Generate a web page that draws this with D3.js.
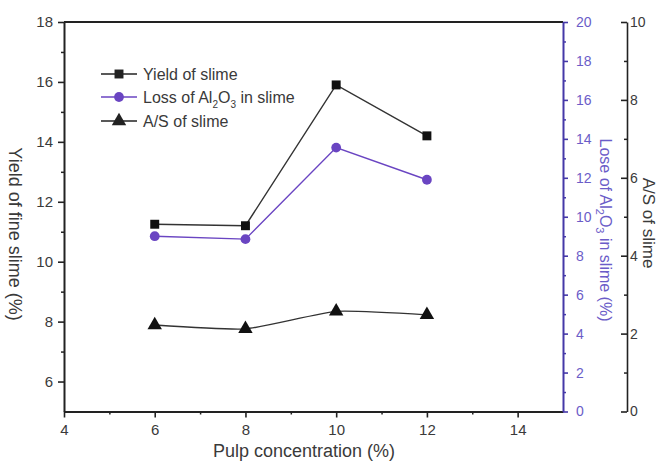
<!DOCTYPE html>
<html>
<head>
<meta charset="utf-8">
<script src="https://cdn.jsdelivr.net/npm/d3@7"></script>
<style>
  body { margin: 0; background: #fff; }
  text { font-family: "Liberation Sans", Arial, sans-serif; }
</style>
</head>
<body>
<div id="chart"></div>
<script>
// ===============================
// DATA
// ===============================
const concentration = [6, 8, 10, 12];
const yieldSlime = [11.25, 11.2, 15.9, 14.2];
const lossAl2O3 = [9.0, 8.85, 13.55, 11.9];
const asSlime = [2.22, 2.12, 2.57, 2.48];

const xTicks = [4, 6, 8, 10, 12, 14];
const yTicks = [6, 8, 10, 12, 14, 16, 18];
const lossTicks = [0, 2, 4, 6, 8, 10, 12, 14, 16, 18, 20];
const asTicks = [0, 2, 4, 6, 8, 10];

// ===============================
// DIMENSIONS
// ===============================
const W = 659, H = 461;
const plotLeft = 64, plotRight = 563, plotTop = 22, plotBottom = 411.5;
const blue = "#4538a8";
const purple = "#6a45c2";
const grey = "#3a3a3a";

const svg = d3.select("#chart").append("svg")
  .attr("width", W)
  .attr("height", H);

// ===============================
// SCALES
// ===============================
const x = d3.scaleLinear().domain([4, 15]).range([plotLeft, plotRight]);
const y = d3.scaleLinear().domain([5, 18]).range([plotBottom, plotTop]);
const yLoss = d3.scaleLinear().domain([0, 20]).range([plotBottom, plotTop]);
const yAS = d3.scaleLinear().domain([0, 10]).range([plotBottom, plotTop]);

function styleAxis(g, color, width) {
  g.select(".domain").attr("stroke", color).attr("stroke-width", width);
  g.selectAll(".tick line").attr("stroke", color).attr("stroke-width", 1.6);
  g.selectAll(".tick text").attr("fill", color).attr("font-size", 15);
}

// ===============================
// X AXIS
// ===============================
svg.append("g")
  .attr("transform", `translate(0,${plotBottom})`)
  .call(d3.axisBottom(x).tickValues([5, 7, 9, 11, 13]).tickSize(3).tickFormat(""))
  .call((g) => g.select(".domain").remove())
  .call((g) => g.selectAll(".tick line").attr("stroke", "#222").attr("stroke-width", 1.5));

svg.append("g")
  .attr("transform", `translate(0,${plotBottom})`)
  .call(d3.axisBottom(x).tickValues(xTicks).tickSize(6).tickSizeOuter(0).tickPadding(7))
  .call((g) => styleAxis(g, "#222", 2))
  .call((g) => g.selectAll(".tick text").attr("fill", grey));

svg.append("text")
  .attr("x", 304)
  .attr("y", 457)
  .attr("text-anchor", "middle")
  .attr("font-size", 18)
  .attr("fill", grey)
  .text("Pulp concentration (%)");

// ===============================
// LEFT AXIS
// ===============================
svg.append("g")
  .attr("transform", `translate(${plotLeft},0)`)
  .call(d3.axisLeft(y).tickValues([7, 9, 11, 13, 15, 17]).tickSize(3).tickFormat(""))
  .call((g) => g.select(".domain").remove())
  .call((g) => g.selectAll(".tick line").attr("stroke", "#222").attr("stroke-width", 1.5));

svg.append("g")
  .attr("transform", `translate(${plotLeft},0)`)
  .call(d3.axisLeft(y).tickValues(yTicks).tickSize(6).tickSizeOuter(0).tickPadding(5))
  .call((g) => styleAxis(g, "#222", 2))
  .call((g) => g.selectAll(".tick text").attr("fill", grey));

svg.append("text")
  .attr("transform", `translate(9,234) rotate(90)`)
  .attr("text-anchor", "middle")
  .attr("font-size", 18)
  .attr("fill", grey)
  .text("Yield of fine slime (%)");

// top frame line
svg.append("line")
  .attr("x1", plotLeft).attr("x2", plotRight)
  .attr("y1", plotTop).attr("y2", plotTop)
  .attr("stroke", "#222").attr("stroke-width", 2);

// ===============================
// RIGHT AXIS — LOSS OF Al2O3
// ===============================
svg.append("g")
  .attr("transform", `translate(${plotRight},0)`)
  .call(d3.axisRight(yLoss).tickValues(d3.range(1, 20, 2)).tickSize(3).tickFormat(""))
  .call((g) => g.select(".domain").remove())
  .call((g) => g.selectAll(".tick line").attr("stroke", blue).attr("stroke-width", 1.5));

svg.append("g")
  .attr("transform", `translate(${plotRight},0)`)
  .call(d3.axisRight(yLoss).tickValues(lossTicks).tickSize(5).tickSizeOuter(0).tickPadding(8))
  .call((g) => styleAxis(g, blue, 2))
  .call((g) => g.selectAll(".tick text").attr("fill", "#6b5cc8").attr("font-size", 14));

const lossLabel = svg.append("text")
  .attr("transform", `translate(600,230) rotate(90)`)
  .attr("text-anchor", "middle")
  .attr("font-size", 16)
  .attr("fill", "#6b5cc8");
lossLabel.append("tspan").text("Lose of Al");
lossLabel.append("tspan").attr("font-size", 11).attr("dy", 4).text("2");
lossLabel.append("tspan").attr("dy", -4).text("O");
lossLabel.append("tspan").attr("font-size", 11).attr("dy", 4).text("3");
lossLabel.append("tspan").attr("dy", -4).text(" in slime (%)");

// ===============================
// THIRD AXIS — A/S
// ===============================
const asX = 627;

svg.append("g")
  .attr("transform", `translate(${asX},0)`)
  .call(d3.axisRight(yAS).tickValues([1, 3, 5, 7, 9]).tickSize(-3).tickFormat(""))
  .call((g) => g.select(".domain").remove())
  .call((g) => g.selectAll(".tick line").attr("stroke", "#222").attr("stroke-width", 1.5));

svg.append("g")
  .attr("transform", `translate(${asX},0)`)
  .call(d3.axisRight(yAS).tickValues(asTicks).tickSize(-6).tickSizeOuter(0).tickPadding(3))
  .call((g) => styleAxis(g, "#222", 1.6))
  .call((g) => g.selectAll(".tick text").attr("fill", grey).attr("font-size", 14));

svg.append("text")
  .attr("transform", `translate(643,223) rotate(90)`)
  .attr("text-anchor", "middle")
  .attr("font-size", 17)
  .attr("fill", grey)
  .text("A/S of slime");

// ===============================
// SERIES
// ===============================
const yieldData = concentration.map((c, i) => ({ c, v: yieldSlime[i] }));
const lossData = concentration.map((c, i) => ({ c, v: lossAl2O3[i] }));
const asData = concentration.map((c, i) => ({ c, v: asSlime[i] }));

svg.append("path")
  .datum(yieldData)
  .attr("fill", "none")
  .attr("stroke", "#333")
  .attr("stroke-width", 1.4)
  .attr("d", d3.line().x((d) => x(d.c)).y((d) => y(d.v)));

svg.append("path")
  .datum(lossData)
  .attr("fill", "none")
  .attr("stroke", purple)
  .attr("stroke-width", 1.4)
  .attr("d", d3.line().x((d) => x(d.c)).y((d) => yLoss(d.v)));

// A/S is drawn as a smoothed line in the source
svg.append("path")
  .datum(asData)
  .attr("fill", "none")
  .attr("stroke", "#333")
  .attr("stroke-width", 1.4)
  .attr("d", d3.line().curve(d3.curveCardinal.tension(0.5)).x((d) => x(d.c)).y((d) => yAS(d.v)));

const square = d3.symbol().type(d3.symbolSquare).size(80);
const circle = d3.symbol().type(d3.symbolCircle).size(75);
const triangle = d3.symbol().type(d3.symbolTriangle).size(90);

svg.selectAll(".pt-yield")
  .data(yieldData)
  .join("path")
  .attr("d", square)
  .attr("transform", (d) => `translate(${x(d.c)},${y(d.v)})`)
  .attr("fill", "#111");

svg.selectAll(".pt-loss")
  .data(lossData)
  .join("path")
  .attr("d", circle)
  .attr("transform", (d) => `translate(${x(d.c)},${yLoss(d.v)})`)
  .attr("fill", purple);

svg.selectAll(".pt-as")
  .data(asData)
  .join("path")
  .attr("d", triangle)
  .attr("transform", (d) => `translate(${x(d.c)},${yAS(d.v)})`)
  .attr("fill", "#111");

// ===============================
// LEGEND
// ===============================
const legendItems = [
  { label: "Yield of slime", color: "#222", symbol: square, y: 74 },
  { label: "Loss of Al|2|O|3| in slime", color: purple, symbol: circle, y: 97 },
  { label: "A/S of slime", color: "#222", symbol: triangle, y: 121 },
];

legendItems.forEach((d) => {
  const row = svg.append("g").attr("transform", `translate(0,${d.y})`);
  row.append("line")
    .attr("x1", 101).attr("x2", 137)
    .attr("stroke", d.color).attr("stroke-width", 1.6);
  row.append("path")
    .attr("d", d.symbol)
    .attr("transform", "translate(119,0)")
    .attr("fill", d.color);
  const t = row.append("text")
    .attr("x", 143)
    .attr("y", 5.5)
    .attr("font-size", 16)
    .attr("fill", grey);
  d.label.split("|").forEach((part, i) => {
    if (i % 2 === 1) {
      t.append("tspan").attr("font-size", 10).attr("dy", 5).text(part);
    } else {
      t.append("tspan").attr("dy", i === 0 ? 0 : -5).text(part);
    }
  });
});
</script>
</body>
</html>
